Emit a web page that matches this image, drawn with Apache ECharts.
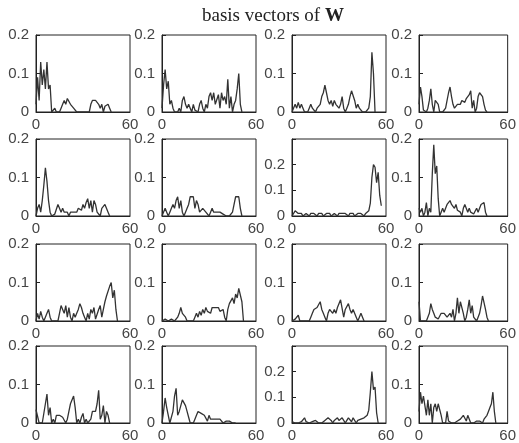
<!DOCTYPE html>
<html><head><meta charset="utf-8">
<script src="https://cdn.jsdelivr.net/npm/echarts@6/dist/echarts.min.js"></script>
<style>html,body{margin:0;padding:0;background:#fff}#c{width:519px;height:443px}</style>
</head><body><div id="c"></div>
<script>
const titleMain = 'basis vectors of ';
const titleVar = 'W';
const xTicks = [0, 60];
const yTicks = [0, 0.1, 0.2];

const w1 = [.02,.09,.03,.13,.07,.11,.06,.13,.06,.07,0,0,.01,0,0,0,.01,.02,.03,.02,.035,.03,.02,.015,.01,.01,0,0,0,0,0,0,0,0,0,.02,.03,.025,.03,.028,.02,.01,.02,0,.015,.02,.02,.01,0];
const w2 = [.01,.07,.11,.06,.08,.02,.03,.01,0,0,0,.01,0,.03,.04,.02,.01,.02,.01,0,.02,.005,.01,0,.02,.03,.01,0,.02,.01,.04,.05,.03,.05,.02,.02,.045,.01,.05,.03,.04,.02,.085,.01,.04,0,.02,.03,.06,.1,.02,0];
const w3 = [0,.005,.02,.01,.025,.01,.02,.01,0,.005,0,.01,.02,.01,.01,0,.01,.01,.02,.04,.05,.07,.05,.03,.02,.03,.015,.03,.02,.025,.01,.02,.04,.01,0,.01,.02,.04,.055,.05,.03,.01,.02,.01,.015,0,0,0,0,.01,.04,.155,.1,0];
const w4 = [.02,.065,.04,.005,0,0,.01,.03,.06,.02,0,.03,.035,.02,0,0,0,0,.01,.03,.05,.065,.04,.02,.01,.005,.02,.025,.02,.03,.03,.025,.035,.03,.045,.055,.01,.03,0,.01,.04,.05,.05,.04,.02,.005,0];
const w5 = [0,.02,.03,.01,.04,.08,.125,.09,.04,.01,0,0,.005,.01,.03,.02,.01,.02,.01,.005,.01,0,.01,.005,.01,.005,.01,.02,.02,.015,.03,.02,.035,.045,.02,.04,.01,.04,.03,.01,.01,0,.02,.025,.03,.025,.01,0];
const w6 = [0,.005,.02,.01,0,.01,.02,.03,.02,.04,.05,.02,.04,.01,0,.01,.02,.03,.05,.055,.05,.02,.04,.03,.01,.01,.02,.02,.01,.005,0,.01,.02,.01,.015,.01,.005,.01,.01,.005,.005,0,0,0,.005,.01,.03,.05,.055,.05,.02,0];
const w7 = [0,.005,.02,.015,.01,.005,.01,0,.005,.01,.005,0,.01,.005,.01,.005,0,.01,.005,.01,0,.005,.01,.005,.01,0,.005,.01,.005,0,.01,.005,.01,.015,.01,.005,0,.01,.005,.01,0,.005,.01,.005,.01,.005,0,.01,.005,.02,.05,.15,.2,.19,.13,.17,.08,.04];
const w8 = [.02,.01,.02,0,.01,.035,0,.02,.01,.11,.185,.11,.13,.045,0,0,.02,.01,.02,.03,.03,.04,.03,.03,.02,.03,.015,.02,.01,0,.02,.03,.035,.01,.02,.01,.015,.005,.01,.02,.01,.02,.03,.025,.035,.01,0];
const w9 = [0,.02,.005,.025,.01,0,0,.02,.03,.01,0,0,0,0,0,.02,.04,.03,.02,.04,.01,.035,.01,0,.02,.01,.02,.03,.045,.035,.02,.01,0,.02,.005,.03,.02,.035,.005,.01,.03,.04,.01,.03,.05,.065,.07,.09,.1,.06,.08,.03,0];
const w10 = [0,0,.005,.005,0,.005,.005,0,0,0,.01,.02,.035,.02,.025,.01,0,.005,0,0,0,.01,.02,.01,.025,.015,.03,.02,.035,.025,.03,.02,.035,.03,.035,.03,.035,.025,.02,.03,.01,0,.03,.045,.05,.06,.045,.07,.06,.085,.08,.05,0];
const w11 = [0,0,.005,.01,.015,0,0,0,0,0,0,0,.01,.02,.03,.025,.035,.04,.05,.03,.02,.01,0,.02,.03,.025,.02,.03,.02,.035,.04,.055,.06,.01,.03,.035,.045,.03,.02,.03,.025,.01,0,.01,.02,.01,0];
const w12 = [.05,0,0,0,0,0,0,.02,.045,.03,.02,.01,.01,.005,.01,.02,.015,.02,.015,.01,.005,.02,.01,.03,0,.02,.06,.02,.05,.045,.02,0,.01,.03,.055,.02,.04,.01,.005,0,.01,.02,.04,.065,.06,.03,.01,0];
const w13 = [.035,.03,0,0,0,0,.05,.075,.02,.04,0,.01,0,.02,.025,.02,.02,.015,.01,0,.01,.03,.05,.055,.07,.04,0,.01,0,.015,.025,0,.01,0,0,.01,.03,.035,.03,.05,.085,.01,.02,.045,0,.03,.02,0];
const w14 = [0,.03,.065,.04,.02,0,0,.03,.07,.09,.02,.03,.045,.06,.055,.045,.03,.015,0,0,0,.01,.02,.03,.035,.025,.03,.02,.025,.005,.02,.01,.015,.01,.005,.01,.005,.01,.01,0,.005,.005,0,.005,.005,0,.005,0];
const w15 = [.005,0,0,0,0,0,.005,.01,.02,.005,0,0,0,.005,.01,.01,.005,0,0,0,.005,.01,.015,.02,.015,.01,0,.01,.005,.02,.01,.005,.02,.01,0,.01,.02,.025,.005,.02,.025,0,.01,.01,.015,.02,.02,.02,.03,.05,.12,.2,.13,.14,.04,0];
const w16 = [.03,.08,.05,.07,.075,.02,.06,.02,.05,0,.04,.05,.03,.05,.05,.02,0,.005,0,.03,.005,0,0,0,0,0,.005,.01,.01,.01,.02,.025,.005,.02,.025,0,0,0,.005,.005,.01,.005,0,0,.01,.01,.02,.03,.04,.05,.08,.03,0];
const yMaxes = [0.2,0.2,0.2,0.2, 0.2,0.2,0.3,0.2, 0.2,0.2,0.2,0.2, 0.2,0.2,0.3,0.2];

const panels = [w1,w2,w3,w4,w5,w6,w7,w8,w9,w10,w11,w12,w13,w14,w15,w16];
const colLeft = [36, 162, 292, 419];
const rowTop = [35, 139, 244, 346];
const boxW = 94, boxH = 77;

const grids = [], xAxes = [], yAxes = [], series = [];
panels.forEach((arr, k) => {
  const r = Math.floor(k / 4), c = k % 4;
  grids.push({left: colLeft[c], top: rowTop[r], width: boxW, height: boxH,
    show: true, borderColor: '#222', borderWidth: 1, backgroundColor: 'transparent', containLabel: false});
  xAxes.push({type: 'value', gridIndex: k, min: xTicks[0], max: xTicks[xTicks.length-1],
    interval: xTicks[1] - xTicks[0],
    axisLine: {show: true, onZero: false, lineStyle: {color: '#222', width: 1}},
    axisTick: {show: false}, splitLine: {show: false},
    axisLabel: {fontFamily: 'Liberation Sans', fontSize: 15, color: '#444', margin: 5,
      formatter: v => xTicks.includes(v) ? String(v) : ''}});
  yAxes.push({type: 'value', gridIndex: k, min: 0, max: yMaxes[k], interval: 0.1,
    axisLine: {show: true, lineStyle: {color: '#222', width: 1}},
    axisTick: {show: true, inside: true, length: 4, lineStyle: {color: '#222'}},
    splitLine: {show: false},
    axisLabel: {fontFamily: 'Liberation Sans', fontSize: 15, color: '#444', margin: 7,
      formatter: v => { const t = yTicks.find(y => Math.abs(y - v) < 1e-9); return t === undefined ? '' : (t === 0 ? '0' : t.toFixed(1)); }}});
  series.push({type: 'line', xAxisIndex: k, yAxisIndex: k, showSymbol: false, silent: true,
    animation: false, lineStyle: {color: '#333', width: 1.3},
    data: arr.map((v, i) => [i, v])});
});

const chart = echarts.init(document.getElementById('c'), null, {renderer: 'canvas'});
chart.setOption({
  backgroundColor: '#fff',
  animation: false,
  title: {text: '{a|' + titleMain + '}{b|' + titleVar + '}', left: 197, top: 2,
    textStyle: {fontWeight: 'normal', rich: {
      a: {fontFamily: 'Liberation Serif', fontSize: 19, fontWeight: 'normal', color: '#222'},
      b: {fontFamily: 'Liberation Serif', fontSize: 19, fontWeight: 'bold', color: '#222'}}}},
  grid: grids, xAxis: xAxes, yAxis: yAxes, series: series
});
</script></body></html>
